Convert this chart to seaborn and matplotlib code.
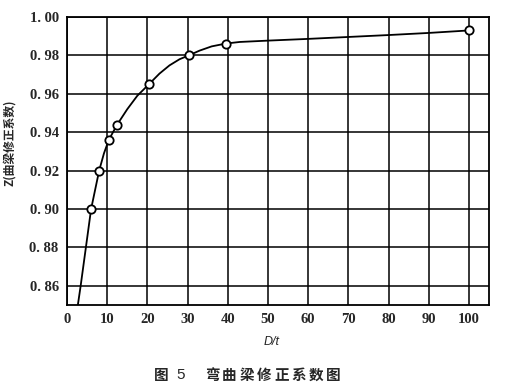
import matplotlib
matplotlib.use("Agg")
import matplotlib.pyplot as plt
import seaborn as sns
import pandas as pd

# measured points (open circles)
pt_x = [6.0, 8.0, 10.4, 12.5, 20.4, 30.3, 39.6, 100.0]
pt_y = [0.900, 0.920, 0.936, 0.944, 0.965, 0.980, 0.986, 0.993]

# curve
curve_x = [2.7, 3.4, 4.7, 6.0, 7.0, 8.0, 9.2, 10.4, 12.5, 15.0, 17.5, 20.4, 23.0,
           25.5, 28.0, 30.3, 33.0, 36.0, 39.6, 43.0, 50.0, 60.0, 70.0, 80.0, 90.0, 100.0]
curve_y = [0.850, 0.860, 0.880, 0.900, 0.910, 0.920, 0.929, 0.936, 0.944, 0.952,
           0.959, 0.965, 0.9705, 0.9748, 0.978, 0.980, 0.9825, 0.9847, 0.9862,
           0.9870, 0.9877, 0.9886, 0.9896, 0.9906, 0.9917, 0.993]

x_ticks = [0, 10, 20, 30, 40, 50, 60, 70, 80, 90, 100]
y_ticks = [0.86, 0.88, 0.90, 0.92, 0.94, 0.96, 0.98, 1.00]
y_tick_labels = ["0. 86", "0. 88", "0. 90", "0. 92", "0. 94", "0. 96", "0. 98", "1. 00"]
caption_chars = ["弯", "曲", "梁", "修", "正", "系", "数", "图"]

sns.set_theme(style="white")
plt.rcParams['font.family'] = ['DejaVu Sans']

SERIF = ["Liberation Serif", "DejaVu Serif"]
CJK = ["Noto Sans CJK SC", "DejaVu Sans"]

fig = plt.figure(figsize=(5.17, 3.89), dpi=100)
ax = fig.add_axes([67/517, 1-305/389, (489-67)/517, (305-17)/389])

curve = pd.DataFrame({"x": curve_x, "y": curve_y})
pts = pd.DataFrame({"x": pt_x, "y": pt_y})

sns.lineplot(data=curve, x="x", y="y", ax=ax, color="black", linewidth=1.3, sort=False, zorder=3)
sns.scatterplot(data=pts, x="x", y="y", ax=ax, s=36, facecolor="white",
                edgecolor="black", linewidth=1.3, zorder=4)

ax.set_xlim(0, 105)
ax.set_ylim(0.85, 1.00)
ax.set_xticks(x_ticks)
ax.set_xticklabels([str(v) for v in x_ticks], fontsize=10.5, fontweight="bold", family=SERIF)
ax.set_yticks(y_ticks)
ax.set_yticklabels(y_tick_labels, fontsize=10.5, fontweight="bold", family=SERIF)
ax.grid(True, color="black", linewidth=1.1)
ax.tick_params(length=0, pad=6)
for s in ax.spines.values():
    s.set_color("black")
    s.set_linewidth(1.3)

ax.set_xlabel("")
ax.set_ylabel("")
fig.text(272/517, 1-342/389, "D/t", ha="center", va="center", fontsize=9,
         style="italic", family=["Liberation Sans", "DejaVu Sans"])
fig.text(10/517, 1-143/389, "Z(曲梁修正系数)", rotation=90, ha="center", va="center",
         fontsize=8.5, fontweight="bold", family=CJK)

# caption
fig.text(161.5/517, 1-375/389, "图", ha="center", va="center", fontsize=10.5,
         fontweight="bold", family=CJK)
fig.text(181/517, 1-375/389, "5", ha="center", va="center", fontsize=11,
         fontweight="normal", family=["Liberation Sans", "DejaVu Sans"])
for i, ch in enumerate(caption_chars):
    fig.text((212 + i * 17.3)/517, 1-375/389, ch, ha="center", va="center",
             fontsize=10.5, fontweight="bold", family=CJK)

fig.savefig("out.png", dpi=100, facecolor="white")
